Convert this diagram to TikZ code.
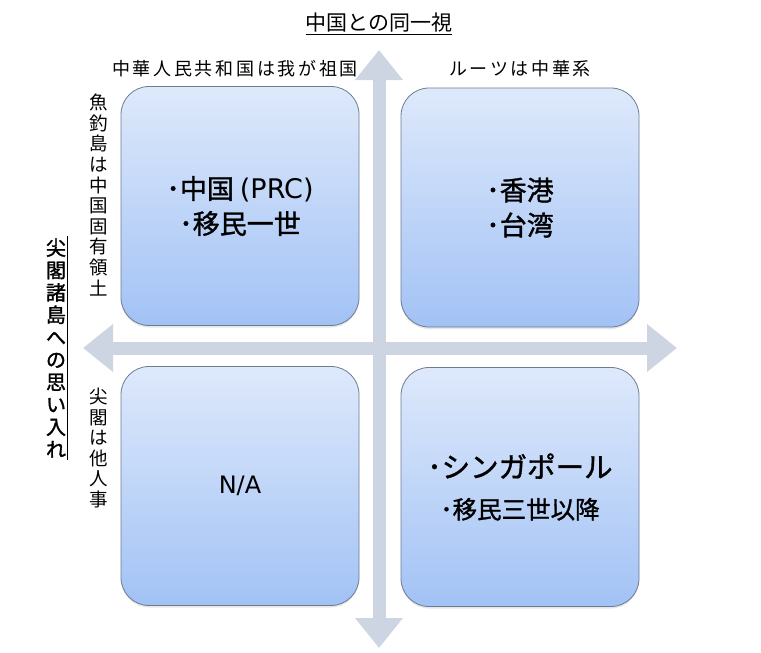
\documentclass[tikz,border=0pt]{standalone}
\usepackage{fontspec}
\setmainfont{Noto Sans CJK JP}
\newfontfamily\latinfont{DejaVu Sans}
\usetikzlibrary{arrows.meta}
\usetikzlibrary{shadows}
\definecolor{axisgray}{RGB}{205,213,226}
\definecolor{boxtop}{RGB}{222,233,251}
\definecolor{boxbot}{RGB}{162,194,245}
\definecolor{boxline}{RGB}{110,124,146}
\tikzset{quad/.style = {draw=boxline, line width=0.8pt, rounded corners=28pt,
    top color=boxtop, bottom color=boxbot, minimum width=238pt,
    minimum height=239pt, align=center, inner sep=0,
    drop shadow={opacity=0.2, shadow xshift=0pt, shadow yshift=-2pt}}}
\tikzset{axisarrow/.style = {axisgray, line width=13pt,
    {Triangle[width=46pt, length=30pt]}-{Triangle[width=46pt, length=30pt]}}}
\tikzset{vlabel/.style = {align=center, inner sep=0,
    font=\fontsize{18.5}{20.6}\selectfont}}
\tikzset{hlabel/.style = {inner sep=0,
    font=\fontsize{18}{22}\selectfont\addfontfeatures{LetterSpace=15}}}
\newcommand{\boxfont}[2]{\fontsize{#1}{#2}\selectfont\addfontfeatures{FakeBold=1.2}}

\begin{document}
\begin{tikzpicture}[x=1pt, y=-1pt]
      \useasboundingbox (0, 0) rectangle (761, 653);
      % axes
      \coordinate (top) at (379, 50);
      \coordinate (bottom) at (379, 648);
      \coordinate (left) at (83, 348);
      \coordinate (right) at (677, 348);
      \draw [axisarrow] (top) -- (bottom);
      \draw [axisarrow] (left) -- (right);
      % quadrants
      \node [quad, font=\boxfont{27}{35}] (prc) at (240, 206)
      {･中国 {\latinfont (PRC)}\\･移民一世};
      \node [quad, font=\boxfont{27}{35}] (hktw) at (520, 207.5)
      {･香港\\･台湾};
      \node [quad, font=\fontsize{24}{30}\selectfont] (na) at (240, 486)
      {\latinfont N/A};
      \node [quad, font=\boxfont{28.5}{41}] (sg) at (520, 487)
      {･シンガポール\\
       {\boxfont{24.5}{41}･移民三世以降}};
      % labels
      \node [inner sep=0, font=\fontsize{21}{24}\selectfont] (title) at (379, 24)
      {\underline{中国との同一視}};
      \node [hlabel] (homeland) at (235, 69) {中華人民共和国は我が祖国};
      \node [hlabel] (roots) at (520, 69) {ルーツは中華系};
      \node [vlabel] (diaoyu) at (99, 195)
      {魚\\釣\\島\\は\\中\\国\\固\\有\\領\\土};
      \node [vlabel] (others) at (99, 448) {尖\\閣\\は\\他\\人\\事};
      \node [vlabel, font=\fontsize{20}{22.4}\selectfont\addfontfeatures{FakeBold=1.5}]
      (senkaku) at (56, 348) {尖\\閣\\諸\\島\\へ\\の\\思\\い\\入\\れ};
      \draw [line width=0.8pt] ([xshift=1pt, yshift=2pt]senkaku.north east)
      -- ([xshift=1pt, yshift=-2pt]senkaku.south east);
    \end{tikzpicture}
\end{document}
